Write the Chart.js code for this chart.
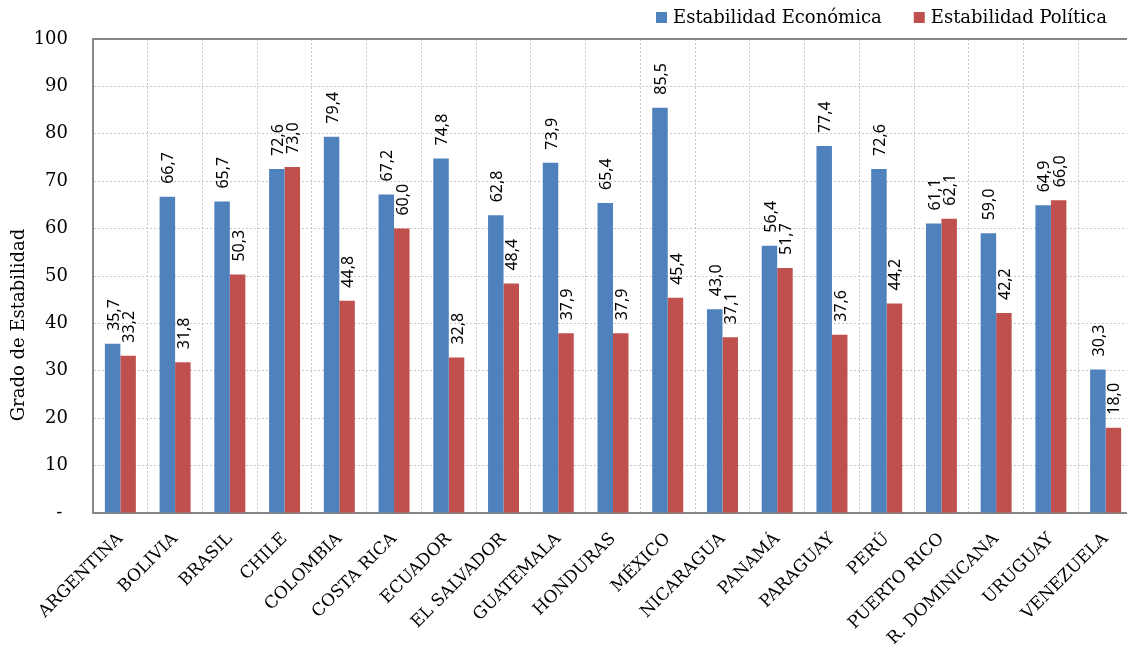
<!DOCTYPE html>
<html>
<head>
<meta charset="utf-8">
<script src="https://cdn.jsdelivr.net/npm/chart.js@4/dist/chart.umd.min.js"></script>
<style>
html,body{margin:0;padding:0;background:#fff;overflow:hidden;width:1127px;height:646px;}
#wrap{width:1127px;height:646px;overflow:hidden;position:relative;}
#c{position:absolute;left:0;top:0;}
</style>
</head>
<body>
<div id="wrap"><canvas id="c" width="1140" height="646"></canvas></div>
<script>
const categories = ["ARGENTINA","BOLIVIA","BRASIL","CHILE","COLOMBIA","COSTA RICA","ECUADOR","EL SALVADOR","GUATEMALA","HONDURAS","MÉXICO","NICARAGUA","PANAMÁ","PARAGUAY","PERÚ","PUERTO RICO","R. DOMINICANA","URUGUAY","VENEZUELA"];
const economica = [35.7,66.7,65.7,72.6,79.4,67.2,74.8,62.8,73.9,65.4,85.5,43.0,56.4,77.4,72.6,61.1,59.0,64.9,30.3];
const politica = [33.2,31.8,50.3,73.0,44.8,60.0,32.8,48.4,37.9,37.9,45.4,37.1,51.7,37.6,44.2,62.1,42.2,66.0,18.0];
const seriesNames = ["Estabilidad Económica","Estabilidad Política"];
const yTicks = [0,10,20,30,40,50,60,70,80,90,100];
const yTitle = "Grado de Estabilidad";

const SERIF = '"DejaVu Serif", serif';
const LABELFONT = '"Noto Sans", sans-serif';

const extras = {
  id: 'extras',
  afterDatasetsDraw(chart) {
    const ctx = chart.ctx;
    ctx.save();
    ctx.font = '16px ' + LABELFONT;
    ctx.fillStyle = '#000';
    ctx.textAlign = 'left';
    ctx.textBaseline = 'middle';
    chart.data.datasets.forEach((ds, i) => {
      const meta = chart.getDatasetMeta(i);
      meta.data.forEach((bar, j) => {
        const v = ds.data[j];
        const txt = v.toFixed(1).replace('.', ',');
        ctx.save();
        ctx.translate(bar.x + 1.5, bar.y - 13);
        ctx.rotate(-Math.PI / 2);
        ctx.fillText(txt, 0, 0);
        ctx.restore();
      });
    });
    ctx.restore();
  },
  afterDraw(chart) {
    const ctx = chart.ctx;
    const a = chart.chartArea;
    ctx.save();
    ctx.strokeStyle = '#868686';
    ctx.lineWidth = 2;
    ctx.beginPath();
    ctx.moveTo(a.left, a.top);
    ctx.lineTo(a.right, a.top);
    ctx.stroke();
    ctx.font = '18px ' + SERIF;
    ctx.fillStyle = '#000';
    ctx.textAlign = 'center';
    ctx.textBaseline = 'middle';
    ctx.save();
    ctx.translate(19, 325);
    ctx.rotate(-Math.PI / 2);
    ctx.fillText(yTitle, 0, 0);
    ctx.restore();
    ctx.font = '18px ' + SERIF;
    ctx.textAlign = 'left';
    let x = 656;
    chart.data.datasets.forEach((ds) => {
      ctx.fillStyle = ds.backgroundColor;
      ctx.fillRect(x, 12, 11, 11);
      ctx.fillStyle = '#000';
      ctx.fillText(ds.label, x + 17, 18);
      x += 17 + ctx.measureText(ds.label).width + 32;
    });
    ctx.restore();
  }
};

new Chart(document.getElementById('c'), {
  type: 'bar',
  data: {
    labels: categories,
    datasets: [
      { label: seriesNames[0], data: economica, backgroundColor: '#4F81BD' },
      { label: seriesNames[1], data: politica, backgroundColor: '#C0504D' }
    ]
  },
  options: {
    responsive: false,
    animation: false,
    devicePixelRatio: 1,
    categoryPercentage: 0.566,
    barPercentage: 1.0,
    layout: { padding: { left: 0, right: 7, top: 39, bottom: 0 } },
    plugins: { legend: { display: false }, tooltip: { enabled: false } },
    scales: {
      x: {
        grid: { color: '#C8C8C8', drawTicks: false, offset: true },
        border: { color: '#868686', width: 2, dash: [2, 2] },
        ticks: {
          autoSkip: false, minRotation: 45, maxRotation: 45, padding: 16,
          color: '#000', font: { family: SERIF, size: 17 }
        },
        afterFit(s) { s.height = 133; }
      },
      y: {
        min: 0, max: 100,
        afterBuildTicks(s) { s.ticks = yTicks.map(v => ({ value: v })); },
        grid: { color: '#C8C8C8', drawTicks: false },
        border: { color: '#868686', width: 2, dash: [2, 2] },
        ticks: {
          padding: 25, color: '#000', font: { family: SERIF, size: 18 },
          callback: (v) => v === 0 ? '- ' : String(v)
        },
        afterFit(s) { s.width = 93; }
      }
    }
  },
  plugins: [extras]
});
</script>
</body>
</html>
